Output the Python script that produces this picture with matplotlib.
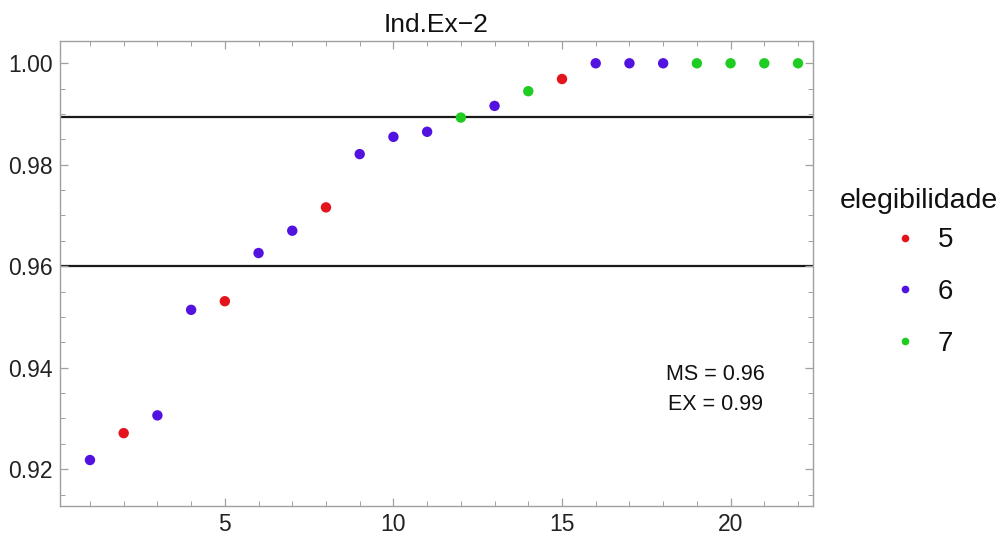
import matplotlib
matplotlib.use("Agg")
import matplotlib.pyplot as plt
from matplotlib.lines import Line2D
from matplotlib.ticker import MultipleLocator

plt.rcParams['font.family'] = ['Liberation Sans', 'DejaVu Sans']

# data
x_vals = list(range(1, 23))
y_vals = [0.9218, 0.9271, 0.9306, 0.9514, 0.9531, 0.9626, 0.9670, 0.9716,
          0.9821, 0.9855, 0.9865, 0.9893, 0.9916, 0.9945, 0.9969,
          1.0, 1.0, 1.0, 1.0, 1.0, 1.0, 1.0]
elig = [6, 5, 6, 6, 5, 6, 6, 5, 6, 6, 6, 7, 6, 7, 5, 6, 6, 6, 7, 7, 7, 7]
categories = [5, 6, 7]
ms_level = 0.96
ex_level = 0.9894

colors = {5: '#e4141c', 6: '#5212e0', 7: '#1ecc22'}
frame_col = '#a0a0a0'

fig = plt.figure(figsize=(10.01, 5.35), dpi=100)
ax = fig.add_axes([0.0599, 0.0548, 0.7518, 0.8691])

ax.axhline(ms_level, color='#1a1a1a', lw=1.6, zorder=1)
ax.axhline(ex_level, color='#1a1a1a', lw=1.6, zorder=1)

for c in categories:
    xs = [x for x, e in zip(x_vals, elig) if e == c]
    ys = [y for y, e in zip(y_vals, elig) if e == c]
    ax.scatter(xs, ys, s=56, color=colors[c], edgecolors='none', zorder=3, clip_on=False)

ax.set_xlim(0.11, 22.43)
ax.set_ylim(0.9128, 1.00445)

ax.xaxis.set_major_locator(MultipleLocator(5))
ax.xaxis.set_minor_locator(MultipleLocator(1))
ax.yaxis.set_major_locator(MultipleLocator(0.02))
ax.yaxis.set_minor_locator(MultipleLocator(0.005))
ax.yaxis.set_major_formatter(plt.FuncFormatter(lambda v, p: "{:.2f}".format(v)))

for sp in ax.spines.values():
    sp.set_color(frame_col)
    sp.set_linewidth(1.0)
ax.tick_params(which='both', direction='in', top=True, right=True, color=frame_col,
               labelsize=16.5, labelcolor='#222222')
ax.tick_params(which='major', length=6, width=0.9, pad=5)
ax.tick_params(which='minor', length=3.5, width=0.7)

ax.set_title("Ind.Ex\u22122", fontsize=19, pad=6, color='#111111')

ax.text(19.55, 0.9386, "MS = 0.96", fontsize=15.5, ha='center', va='center', color='#111111')
ax.text(19.55, 0.9327, "EX = 0.99", fontsize=15.5, ha='center', va='center', color='#111111')

# legend: title as separate text, entries below it
fig.text(0.918, 1 - 201 / 535, "elegibilidade", ha='center', va='center',
         fontsize=20.5, color='#111111')
handles = [Line2D([0], [0], marker='o', ls='none', markersize=5.5,
                  markerfacecolor=colors[c], markeredgecolor='none', label=str(c))
           for c in categories]
fig.legend(handles=handles, loc='center', bbox_to_anchor=(922 / 1001, 1 - 292 / 535),
           frameon=False, fontsize=20, labelspacing=0.92, handletextpad=0.7,
           handlelength=1.0, borderpad=0, labelcolor='#111111')

fig.savefig("out.png", dpi=100)
